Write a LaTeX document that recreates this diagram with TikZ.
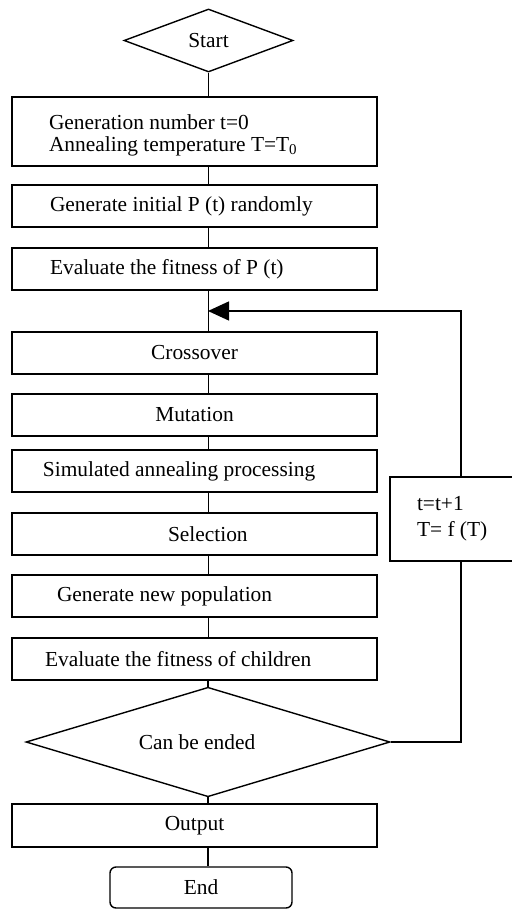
\documentclass[tikz,border=0pt]{standalone}
\usepackage{fontspec}
\setmainfont{Liberation Serif}
\usetikzlibrary{shapes.geometric,arrows.meta}
\newcommand{\boxtxt}[2]{\makebox[365pt][l]{\hspace{#1}#2}}
\begin{document}
\begin{tikzpicture}[x=1pt,y=-1pt,
  every node/.style={font=\fontsize{21.4}{24}\selectfont, inner sep=0pt},
  procbox/.style={draw, line width=1.4pt, rectangle, minimum width=365pt, minimum height=42pt},
  decision/.style={draw, line width=1.4pt, diamond, inner sep=0pt},
  conn/.style={line width=1.4pt}]
\useasboundingbox (0,0) rectangle (511,909);
\node[decision, minimum width=169pt, minimum height=63pt] (start) at (208.5,40.5) {Start};
\node[procbox, minimum height=69pt] (b1) at (194.5,131.5) {\boxtxt{37pt}{\raisebox{-9pt}[0pt][0pt]{\begin{tabular}{@{}l@{}}Generation number t=0\\[-2pt]Annealing temperature T=T\textsubscript{0}\end{tabular}}}};
\node[procbox] (b2) at (194.5,206) {\boxtxt{38pt}{Generate initial P (t) randomly}};
\node[procbox] (b3) at (194.5,269) {\boxtxt{38pt}{Evaluate the fitness of P (t)}};
\node[procbox] (cross) at (194.5,353) {Crossover};
\node[procbox] (mut) at (194.5,415) {Mutation};
\node[procbox] (sim) at (194.5,471) {\boxtxt{31pt}{Simulated annealing processing}};
\node[procbox] (sel) at (194.5,534) {\boxtxt{156pt}{Selection}};
\node[procbox] (gen) at (194.5,596) {\boxtxt{45pt}{Generate new population}};
\node[procbox] (evc) at (194.5,659) {\boxtxt{33pt}{Evaluate the fitness of children}};
\node[decision, minimum width=364pt, minimum height=84pt] (cond) at (208,742) {\hspace*{-22pt}Can be ended};
\node[procbox, minimum height=43pt] (out) at (194.5,825.5) {Output};
\node[draw, line width=1.4pt, rounded corners=6pt, minimum width=182pt, minimum height=41pt] (end) at (201,887.5) {End};
\node[draw, line width=1.4pt, minimum width=142pt, minimum height=84pt] (upd) at (461,519) {\makebox[142pt][l]{\hspace{27pt}\begin{tabular}{@{}l@{}}t=t+1\\[2pt]T= f (T)\end{tabular}}};
\coordinate (merge) at (208,311);
\draw[conn] (start.south) -- (b1.north -| start.south);
\draw[conn] (b1.south -| start.south) -- (b2.north -| start.south);
\draw[conn] (b2.south -| start.south) -- (b3.north -| start.south);
\draw[conn] (b3.south -| start.south) -- (cross.north -| start.south);
\draw[conn] (cross.south -| start.south) -- (mut.north -| start.south);
\draw[conn] (mut.south -| start.south) -- (sim.north -| start.south);
\draw[conn] (sim.south -| start.south) -- (sel.north -| start.south);
\draw[conn] (sel.south -| start.south) -- (gen.north -| start.south);
\draw[conn] (gen.south -| start.south) -- (evc.north -| start.south);
\draw[conn] (evc.south -| cond.north) -- (cond.north);
\draw[conn] (cond.south) -- (out.north -| cond.south);
\draw[conn] (out.south -| cond.south) -- (end.north -| cond.south);
\draw[conn] (cond.east) -| (upd.south);
\draw[conn, -{Triangle[length=21pt,width=19pt]}] (upd.north) |- (merge);
\end{tikzpicture}
\end{document}
